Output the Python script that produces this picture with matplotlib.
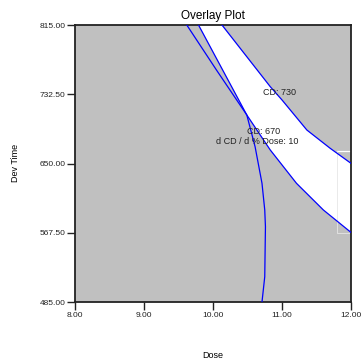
"""Overlay plot: CD window (670-730) and d CD / d % Dose constraint over Dose x Dev Time."""
import numpy as np
import matplotlib
matplotlib.use("Agg")
import matplotlib.pyplot as plt

plt.rcParams["font.family"] = ["Liberation Sans", "DejaVu Sans"]

# contour lines (dose, dev time)
cd670_dose = [9.62, 10.05, 10.49, 10.83, 11.21, 11.60, 12.00]
cd670_time = [815.0, 761.4, 707.8, 666.1, 626.4, 594.6, 567.9]

slope_dose = [9.79, 10.14, 10.49, 10.61, 10.71, 10.75, 10.76, 10.75, 10.71]
slope_time = [815.0, 761.4, 707.8, 670.0, 626.4, 594.6, 574.7, 515.1, 485.0]

cd730_dose = [10.13, 10.83, 11.00, 11.36, 11.70, 12.00]
cd730_time = [815.0, 741.5, 725.7, 689.9, 668.0, 650.2]

labels = ["CD: 730", "CD: 670", "d CD / d % Dose: 10"]
label_dose = [10.97, 10.73, 10.64]
label_time = [734.4, 687.9, 676.0]

x_ticks = [8.0, 9.0, 10.0, 11.0, 12.0]
y_ticks = [485.0, 567.5, 650.0, 732.5, 815.0]

# faint box artefact at right edge
box_dose = [11.80, 12.0]
box_time = [567.6, 665.3]

GRAY = "#c0c0c0"
BLUE = "#0000ff"


def main():
    fig = plt.figure(figsize=(3.62, 3.64), dpi=100)
    ax = fig.add_axes([75 / 362, 62 / 364, 276 / 362, 277 / 364])
    ax.set_facecolor(GRAY)

    # feasible (white) region: right of both lower bounds, left of CD 730
    n_top = slope_dose.index(10.49) + 1
    k = cd670_dose.index(10.49)
    poly_x = slope_dose[:n_top] + cd670_dose[k + 1:] + cd730_dose[::-1]
    poly_y = slope_time[:n_top] + cd670_time[k + 1:] + cd730_time[::-1]
    ax.fill(poly_x, poly_y, color="white", lw=0, zorder=1)

    # faint box
    ax.plot([box_dose[0], box_dose[1]], [box_time[1], box_time[1]], color="white", lw=0.9, zorder=2)
    ax.plot([box_dose[0], box_dose[0], box_dose[1]], [box_time[1], box_time[0], box_time[0]],
            color="#e6e6e6", lw=0.6, zorder=2)

    for xs, ys in [(cd670_dose, cd670_time), (slope_dose, slope_time), (cd730_dose, cd730_time)]:
        ax.plot(xs, ys, color=BLUE, lw=0.9, zorder=3)

    for txt, xd, yt in zip(labels, label_dose, label_time):
        ax.text(xd, yt, txt, fontsize=6.5, ha="center", va="center", color="#222222", zorder=4)

    ax.set_xlim(8, 12)
    ax.set_ylim(485, 815)
    ax.set_xticks(x_ticks)
    ax.set_yticks(y_ticks)
    ax.set_xticklabels([f"{v:.2f}" for v in x_ticks])
    ax.set_yticklabels([f"{v:.2f}" for v in y_ticks])
    ax.tick_params(direction="out", length=5.5, width=1, labelsize=6, pad=1.5, colors="#222222")
    for s in ax.spines.values():
        s.set_color("#222222")
        s.set_linewidth(1.3)

    ax.set_title("Overlay Plot", fontsize=8.5, pad=4)
    fig.text(15 / 362, 1 - 163 / 364, "Dev Time", rotation=90, fontsize=6.5, ha="center", va="center")
    fig.text(213 / 362, 1 - 355 / 364, "Dose", fontsize=6.5, ha="center", va="center")

    fig.savefig("out.png", dpi=100)


if __name__ == "__main__":
    main()
